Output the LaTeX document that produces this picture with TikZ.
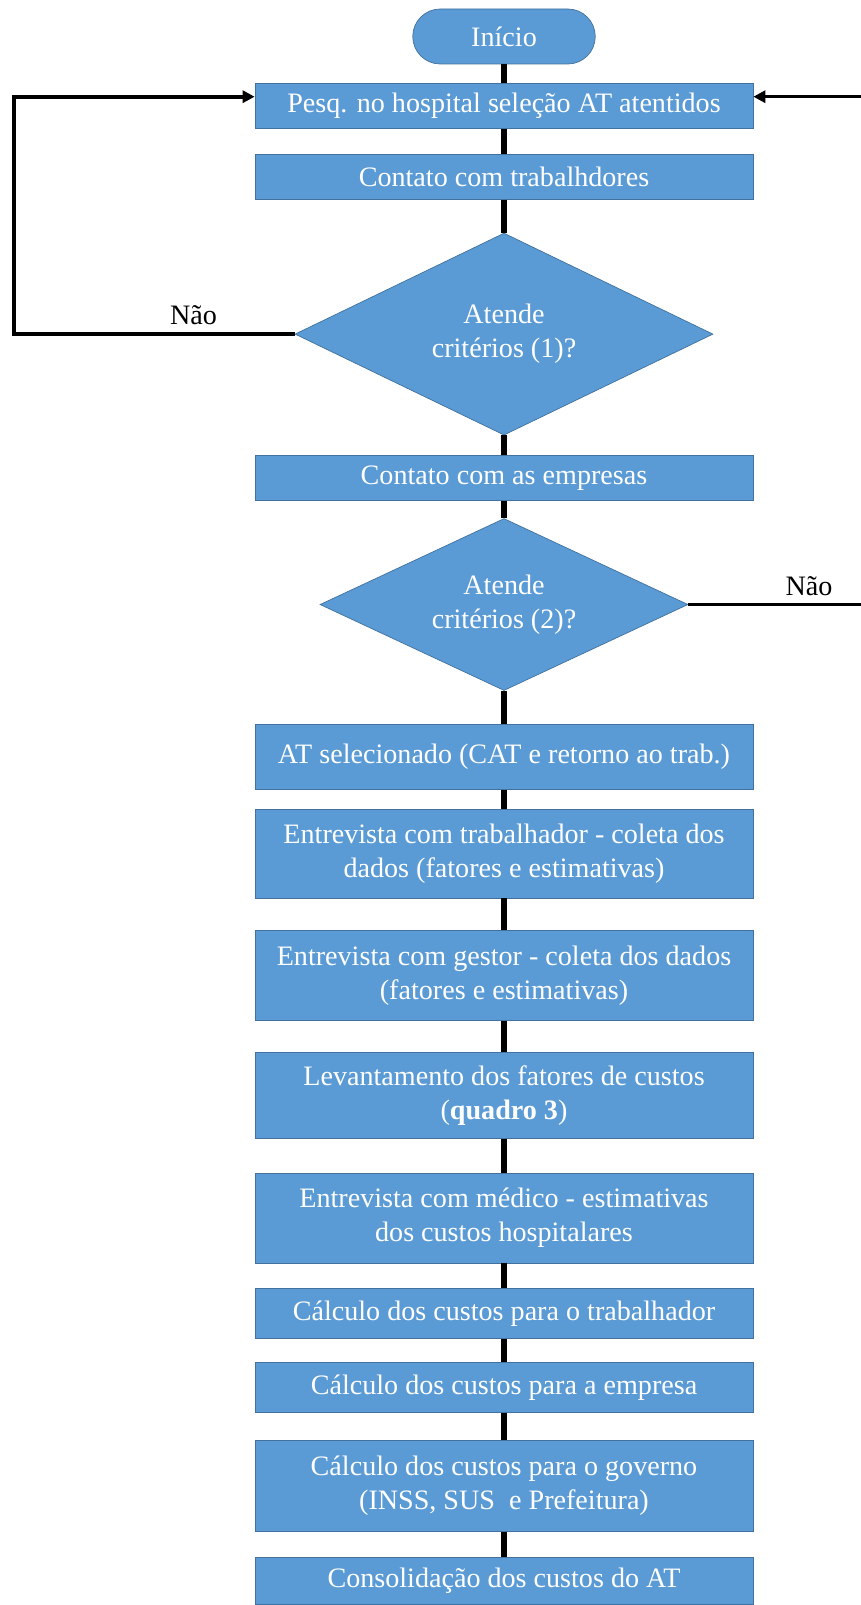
\documentclass[tikz,border=0pt]{standalone}
\usepackage{fontspec}
\setmainfont{Liberation Serif}
\usetikzlibrary{arrows.meta,positioning,shapes.geometric}
\definecolor{boxblue}{HTML}{5B9BD5}
\definecolor{boxedge}{HTML}{41719C}

\begin{document}
\begin{tikzpicture}[
  base/.style  = {draw=boxedge, fill=boxblue, text=white, line width=0.4pt,
                  font=\fontsize{16}{19.3}\selectfont, align=center, inner sep=2pt},
  proc/.style  = {base, minimum width=99.6mm, minimum height=9mm},
  term/.style  = {base, rounded corners=5.5mm, minimum width=36.5mm, minimum height=11mm},
  decis/.style = {base, diamond, aspect=2, inner sep=0pt},
  spine/.style = {line width=1.3mm},
  loop/.style  = {line width=0.8mm},
  back/.style  = {line width=0.6mm},
  arr/.style   = {-{Triangle[length=2.4mm,width=2.4mm]}},
  lab/.style   = {font=\fontsize{16}{19}\selectfont, inner sep=1.5pt}
]
\useasboundingbox (0,0) rectangle (172mm,-321mm);

%% ---- main column ---------------------------------------------------
\node[term] (start) at (100.8mm,-7.3mm) {Início};
\node[proc, below=3.8mm of start] (pesq) {Pesq. no hospital seleção AT atentidos};
\node[proc, below=5mm of pesq] (trab) {Contato com trabalhdores};
\node[decis, below=6.6mm of trab, minimum width=83.6mm, minimum height=40.4mm] (crit1)
  {Atende\\critérios (1)?};
\node[proc, below=4mm of crit1] (empr) {Contato com as empresas};
\node[decis, below=3.4mm of empr, minimum width=73.6mm, minimum height=34.4mm] (crit2)
  {Atende\\critérios (2)?};
\node[proc, below=6.6mm of crit2, minimum height=13mm] (sel)
  {AT selecionado (CAT e retorno ao trab.)};
\node[proc, below=3.8mm of sel, minimum height=17.8mm] (etrab)
  {Entrevista com trabalhador - coleta dos\\dados (fatores e estimativas)};
\node[proc, below=6.4mm of etrab, minimum height=18mm] (egest)
  {Entrevista com gestor - coleta dos dados\\(fatores e estimativas)};
\node[proc, below=6.2mm of egest, minimum height=17.2mm] (fat)
  {Levantamento dos fatores de custos\\(\textbf{quadro 3})};
\node[proc, below=6.8mm of fat, minimum height=18mm] (emed)
  {Entrevista com médico - estimativas\\dos custos hospitalares};
\node[proc, below=5mm of emed, minimum height=10mm] (ctrab)
  {Cálculo dos custos para o trabalhador};
\node[proc, below=4.6mm of ctrab, minimum height=10mm] (cemp)
  {Cálculo dos custos para a empresa};
\node[proc, below=5.4mm of cemp, minimum height=18.2mm] (cgov)
  {Cálculo dos custos para o governo\\(INSS, SUS~ e Prefeitura)};
\node[proc, below=5mm of cgov, minimum height=9.4mm] (cons)
  {Consolidação dos custos do AT};

\draw[spine] (start) -- (pesq);
\draw[spine] (pesq) -- (trab);
\draw[spine] (trab) -- (crit1);
\draw[spine] (crit1) -- (empr);
\draw[spine] (empr) -- (crit2);
\draw[spine] (crit2) -- (sel);
\draw[spine] (sel) -- (etrab);
\draw[spine] (etrab) -- (egest);
\draw[spine] (egest) -- (fat);
\draw[spine] (fat) -- (emed);
\draw[spine] (emed) -- (ctrab);
\draw[spine] (ctrab) -- (cemp);
\draw[spine] (cemp) -- (cgov);
\draw[spine] (cgov) -- (cons);

%% ---- return loops --------------------------------------------------
\coordinate (lft) at (2.8mm,0);
\coordinate (rgt) at (176mm,0);
\draw[loop, arr] (crit1.west) -- node[lab, above=1mm, pos=0.36] {Não} (crit1.west -| lft)
  |- ([yshift=1.9mm]pesq.west);
\draw[back, arr] (crit2.east) -- node[lab, above=1mm, pos=0.63] {Não} (crit2.east -| rgt)
  |- ([yshift=1.9mm]pesq.east);
\end{tikzpicture}
\end{document}
